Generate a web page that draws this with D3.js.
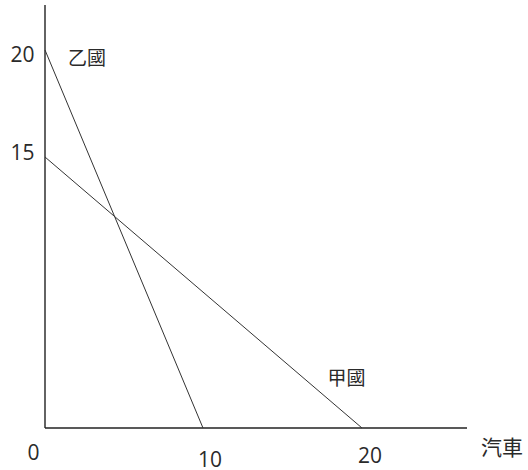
<!DOCTYPE html>
<html>
<head>
<meta charset="utf-8">
<script src="https://cdn.jsdelivr.net/npm/d3@7"></script>
<style>
  html, body { margin: 0; padding: 0; background: #fff; overflow: hidden; }
  svg text { font-family: "Open Sans", "Noto Sans CJK TC", sans-serif; fill: #2a2a2a; }
</style>
</head>
<body>
<div id="chart"></div>
<script>
// production possibility lines: [x intercept (cars), y intercept]
const countries = ["乙國", "甲國"];
const xIntercepts = [10, 20];
const yIntercepts = [20, 15];
const xTicks = [0, 10, 20];
const yTicks = [15, 20];
const xAxisLabel = "汽車";

const W = 528, H = 470;

const svg = d3.select("#chart")
    .append("svg")
    .attr("width", W)
    .attr("height", H)
    .style("display", "block");

// the sketch is not to scale on the vertical axis, so use a piecewise scale
const x = d3.scaleLinear().domain([0, 10, 20, 26.6]).range([45, 203, 362, 467]);
const y = d3.scaleLinear().domain([0, 15, 20, 22.8]).range([428, 157, 50, 5]);

// axes
svg.append("line")
    .attr("x1", x(0)).attr("y1", y(0))
    .attr("x2", x(0)).attr("y2", y(22.8))
    .attr("stroke", "#222").attr("stroke-width", 1.4);
svg.append("line")
    .attr("x1", x(0)).attr("y1", y(0))
    .attr("x2", x(26.6)).attr("y2", y(0))
    .attr("stroke", "#222").attr("stroke-width", 1.4);

// country lines
svg.selectAll("line.pp")
    .data(countries)
    .join("line")
    .attr("class", "pp")
    .attr("x1", x(0))
    .attr("y1", (d, i) => y(yIntercepts[i]))
    .attr("x2", (d, i) => x(xIntercepts[i]))
    .attr("y2", y(0))
    .attr("stroke", "#333")
    .attr("stroke-width", 1);

// tick labels
const yDy = { 15: -4.5, 20: 4.5 };
svg.selectAll("text.ytick")
    .data(yTicks)
    .join("text")
    .attr("class", "ytick")
    .attr("x", 22.5)
    .attr("y", d => y(d) + yDy[d])
    .attr("dy", "0.35em")
    .attr("text-anchor", "middle")
    .attr("font-size", 21)
    .text(d => d);

const xDy = { 0: 25, 10: 32, 20: 28 };
const xDx = { 0: -11.5, 10: 7, 20: 8 };
svg.selectAll("text.xtick")
    .data(xTicks)
    .join("text")
    .attr("class", "xtick")
    .attr("x", d => x(d) + xDx[d])
    .attr("y", d => y(0) + xDy[d])
    .attr("dy", "0.35em")
    .attr("text-anchor", "middle")
    .attr("font-size", 21)
    .text(d => d);

svg.append("text")
    .attr("x", 502)
    .attr("y", y(0) + 20)
    .attr("dy", "0.35em")
    .attr("text-anchor", "middle")
    .attr("font-size", 21)
    .text(xAxisLabel);

// country labels
const labelPos = [[87, 58.5], [346.5, 378.5]];
svg.selectAll("text.country")
    .data(countries)
    .join("text")
    .attr("class", "country")
    .attr("x", (d, i) => labelPos[i][0])
    .attr("y", (d, i) => labelPos[i][1])
    .attr("dy", "0.35em")
    .attr("text-anchor", "middle")
    .attr("font-size", 19)
    .text(d => d);
</script>
</body>
</html>
